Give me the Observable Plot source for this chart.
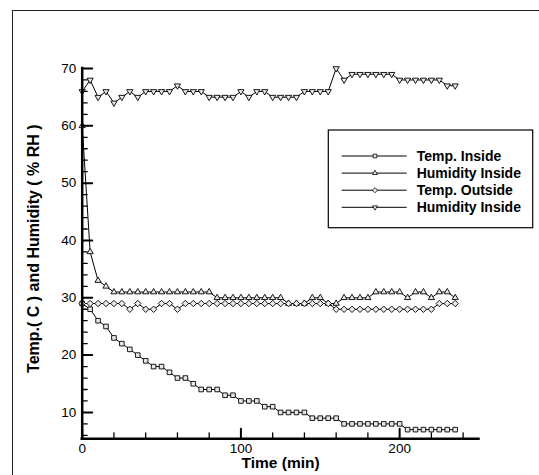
<!DOCTYPE html>
<html><head><meta charset="utf-8">
<script src="https://cdn.jsdelivr.net/npm/d3@7"></script>
<script src="https://cdn.jsdelivr.net/npm/@observablehq/plot@0.6"></script>
<style>
body{margin:0;background:#fff;}
#chart{position:relative;width:539px;height:475px;overflow:hidden;background:#fff;}
#border{position:absolute;left:12px;top:10px;width:700px;height:700px;border:1.5px solid #222;pointer-events:none;}
</style></head><body><div id="chart"><div id="border"></div></div>
<script>
const time = [0,5,10,15,20,25,30,35,40,45,50,55,60,65,70,75,80,85,90,95,100,105,110,115,120,125,130,135,140,145,150,155,160,165,170,175,180,185,190,195,200,205,210,215,220,225,230,235];
const tempInside = [29,28,26,25,23,22,21,20,19,18,18,17,16,16,15,14,14,14,13,13,12,12,12,11,11,10,10,10,10,9,9,9,9,8,8,8,8,8,8,8,8,7,7,7,7,7,7,7];
const humidityInside = [60,38,33,32,31,31,31,31,31,31,31,31,31,31,31,31,31,30,30,30,30,30,30,30,30,30,29,29,29,30,30,29,29,30,30,30,30,31,31,31,31,30,31,31,30,31,31,30];
const tempOutside = [29,29,29,29,29,29,28,29,28,28,29,29,28,29,29,29,29,29,29,29,29,29,29,29,29,29,29,29,29,29,29,29,28,28,28,28,28,28,28,28,28,28,28,28,28,29,29,29];
const humidityInside2 = [66,68,65,66,64,65,66,65,66,66,66,66,67,66,66,66,65,65,65,65,66,65,66,66,65,65,65,65,66,66,66,66,70,68,69,69,69,69,69,69,68,68,68,68,68,68,67,67];
const seriesNames = ["Temp. Inside","Humidity Inside","Temp. Outside","Humidity Inside"];
const seriesSymbols = ["square","triangle","diamond2","triangle"];
const seriesRotate = [0,0,0,180];
const seriesR = [2.6,2.3,2.9,2.3];
const xTickLabels = [0,100,200];
const xMinorTicks = [20,40,60,80,120,140,160,180,220,240];
const yTickLabels = [10,20,30,40,50,60,70];
const yMinorTicks = [6,8,12,14,16,18,22,24,26,28,32,34,36,38,42,44,46,48,52,54,56,58,62,64,66,68];
const xDomain = [0,250];
const yDomain = [5.4,70];

const seriesValues = [tempInside, humidityInside, tempOutside, humidityInside2];
const rows = [];
seriesValues.forEach((vals, s) => vals.forEach((v, i) => rows.push({t: time[i], v, s})));

const tickShape = {draw(context, l) { context.moveTo(0, 0); context.lineTo(0, -l); }};
const font = "'Liberation Sans', Arial, Helvetica, sans-serif";

const marks = [
  Plot.line(rows, {x: "t", y: "v", z: "s", stroke: "black", strokeWidth: 1}),
  ...seriesValues.map((vals, s) => Plot.dot(rows.filter(d => d.s === s), {
    x: "t", y: "v", symbol: seriesSymbols[s], r: seriesR[s], rotate: seriesRotate[s],
    fill: "#e8e8e8", stroke: "black", strokeWidth: 0.9
  })),
  Plot.ruleX([xDomain[0]], {stroke: "black", strokeWidth: 2.5, strokeLinecap: "square"}),
  Plot.ruleY([yDomain[0]], {stroke: "black", strokeWidth: 2.5, strokeLinecap: "square"}),
  Plot.vector(xTickLabels, {x: d => d, frameAnchor: "bottom", length: 10, rotate: 0, anchor: "start", shape: tickShape, stroke: "black", strokeWidth: 2}),
  Plot.vector(xMinorTicks, {x: d => d, frameAnchor: "bottom", length: 6, rotate: 0, anchor: "start", shape: tickShape, stroke: "black", strokeWidth: 1.3}),
  Plot.vector(yTickLabels, {y: d => d, frameAnchor: "left", length: 10, rotate: 90, anchor: "start", shape: tickShape, stroke: "black", strokeWidth: 2}),
  Plot.vector(yMinorTicks, {y: d => d, frameAnchor: "left", length: 5, rotate: 90, anchor: "start", shape: tickShape, stroke: "black", strokeWidth: 1.3}),
  Plot.axisX({ticks: xTickLabels, tickSize: 0, tickPadding: 5, fontSize: 13.5, label: null}),
  Plot.axisY({ticks: yTickLabels, tickSize: 0, tickPadding: 6, fontSize: 13.5, label: null}),
  Plot.text(["Time (min)"], {frameAnchor: "bottom", dy: 29.5, fontSize: 15.5, fontWeight: "bold", textAnchor: "middle"}),
  Plot.text(["Temp.( C ) and Humidity ( % RH )"], {frameAnchor: "left", dx: -48.5, dy: -5, rotate: -90, fontSize: 16, fontWeight: "bold", textAnchor: "middle"})
];

const chart = Plot.plot({
  width: 539, height: 475,
  marginLeft: 81.7, marginRight: 60.5, marginTop: 68, marginBottom: 36.7,
  x: {domain: xDomain},
  y: {domain: yDomain},
  style: {fontFamily: font, fontSize: "14px", color: "black", background: "white", overflow: "visible"},
  marks
});
document.getElementById("chart").insertBefore(chart, document.getElementById("border"));

// legend
const svg = d3.select(chart);
const lg = svg.append("g").attr("font-family", font).attr("text-anchor", "start");
lg.append("rect").attr("x", 328.3).attr("y", 130).attr("width", 204.4).attr("height", 97.7)
  .attr("fill", "white").attr("stroke", "black").attr("stroke-width", 1.2);
seriesNames.forEach((name, i) => {
  const y = 156 + i * 17.1;
  lg.append("line").attr("x1", 341.7).attr("x2", 406.7).attr("y1", y).attr("y2", y).attr("stroke", "black").attr("stroke-width", 1);
  const sym = {square: d3.symbolSquare, triangle: d3.symbolTriangle, diamond2: d3.symbolDiamond2}[seriesSymbols[i]];
  const r = seriesR[i] * 0.8;
  lg.append("path").attr("d", d3.symbol(sym, Math.PI * r * r)())
    .attr("transform", `translate(375,${y}) rotate(${seriesRotate[i]})`)
    .attr("fill", "#e8e8e8").attr("stroke", "black").attr("stroke-width", 0.8);
  lg.append("text").attr("x", 416.7).attr("y", y).attr("dy", "0.36em").attr("text-anchor", "start")
    .attr("font-size", 14).attr("font-weight", "bold").text(name);
});
</script></body></html>
